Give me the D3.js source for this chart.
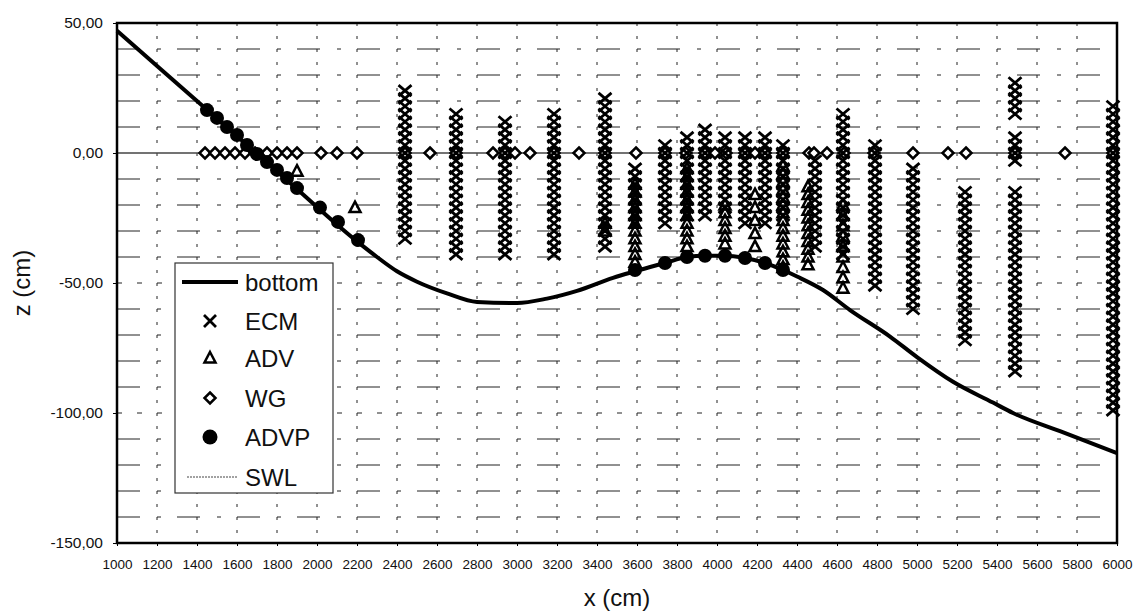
<!DOCTYPE html>
<html>
<head>
<meta charset="utf-8">
<script src="https://cdn.jsdelivr.net/npm/d3@7"></script>
<style>
  body { margin: 0; background: #fff; }
  text { font-family: "Liberation Sans", Arial, sans-serif; fill: #111; }
</style>
</head>
<body>
<div id="chart"></div>
<script>
// ---- data ----
var xTicks = [1000, 1200, 1400, 1600, 1800, 2000, 2200, 2400, 2600, 2800, 3000, 3200, 3400,
              3600, 3800, 4000, 4200, 4400, 4600, 4800, 5000, 5200, 5400, 5600, 5800, 6000];
var yTicks = [50, 0, -50, -100, -150];
var swlLevel = 0;

// bottom profile
var bottomX = [1000, 1400, 1800, 2200, 2300, 2400, 2500, 2650, 2800, 3000, 3150, 3300, 3480, 3590,
               3740, 3850, 3940, 4040, 4140, 4240, 4330, 4400, 4530, 4665, 4865, 5000, 5180, 5380,
               5480, 5715, 6000];
var bottomZ = [47, 20, -7, -34, -40, -45.5, -49.5, -54, -57.3, -57.7, -56, -53, -48, -45.5,
               -42.3, -40, -39.5, -39.5, -40.4, -42.3, -45, -47.5, -52.7, -60.4, -70.6, -78.5, -88, -96,
               -100, -107, -115.4];

// ECM columns
var ecmX = [2440, 2695, 2940, 3185, 3440, 3590, 3740, 3850, 3940, 4040, 4140, 4240, 4330, 4490,
            4630, 4790, 4980, 5240, 5490, 5980];
var ecmZ = [
  [24, 21, 18, 15, 12, 9, 6, 3, 0, -3, -6, -9, -12, -15, -18, -21, -24, -27, -30, -33],
  [15, 12, 9, 6, 3, 0, -3, -6, -9, -12, -15, -18, -21, -24, -27, -30, -33, -36, -39],
  [12, 9, 6, 3, 0, -3, -6, -9, -12, -15, -18, -21, -24, -27, -30, -33, -36, -39],
  [15, 12, 9, 6, 3, 0, -3, -6, -9, -12, -15, -18, -21, -24, -27, -30, -33, -36, -39],
  [21, 18, 15, 12, 9, 6, 3, 0, -3, -6, -9, -12, -15, -18, -21, -24, -27, -30, -33, -36],
  [-6, -9, -12, -15, -18, -21, -24, -27],
  [3, 0, -3, -6, -9, -12, -15, -18, -21, -24, -27],
  [6, 3, 0, -3, -6, -9, -12, -15, -18, -21, -24],
  [9, 6, 3, 0, -3, -6, -9, -12, -15, -18, -21, -24],
  [6, 3, 0, -3, -6, -9, -12, -15, -18, -21],
  [6, 3, 0, -3, -6, -9, -12, -15, -18, -21, -24, -27],
  [6, 3, 0, -3, -6, -9, -12, -15, -18, -21, -24, -27],
  [3, 0, -3, -6, -9, -12, -15, -18, -21, -24],
  [-3, -6, -9, -12, -15, -18, -21, -24, -27, -30, -33, -36],
  [15, 12, 9, 6, 3, 0, -3, -6, -9, -12, -15, -18, -21, -24, -27, -30, -33, -36, -39],
  [3, 0, -3, -6, -9, -12, -15, -18, -21, -24, -27, -30, -33, -36, -39, -42, -45, -48, -51],
  [-6, -9, -12, -15, -18, -21, -24, -27, -30, -33, -36, -39, -42, -45, -48, -51, -54, -57, -60],
  [-15, -18, -21, -24, -27, -30, -33, -36, -39, -42, -45, -48, -51, -54, -57, -60, -63, -66, -69, -72],
  [27, 24, 21, 18, 15, 6, 3, 0, -3, -15, -18, -21, -24, -27, -30, -33, -36, -39, -42, -45, -48,
   -51, -54, -57, -60, -63, -66, -69, -72, -75, -78, -81, -84],
  [18, 15, 12, 9, 6, 3, 0, -3, -6, -9, -12, -15, -18, -21, -24, -27, -30, -33, -36, -39, -42, -45,
   -48, -51, -54, -57, -60, -63, -66, -69, -72, -75, -78, -81, -84, -87, -90, -93, -96, -99]
];

// ADV columns
var advX = [1900, 2190, 3440, 3590, 3850, 4040, 4190, 4330, 4455, 4630];
var advZ = [
  [-7],
  [-21],
  [-27, -30],
  [-12, -15, -18, -21, -24, -27, -30, -33, -36, -39, -42],
  [-6, -9, -12, -15, -18, -21, -24, -27, -30, -33, -36],
  [-20, -23, -26, -29, -32, -35],
  [-16, -21, -26, -31, -36],
  [-5, -8, -11, -14, -17, -20, -23, -26, -29, -32, -35, -38, -41, -44],
  [-13, -16, -19, -22, -25, -28, -31, -34, -37, -40, -43],
  [-20, -24, -28, -32, -36, -40, -44, -48, -52]
];

// WG gauges, all at still water level
var wgX = [1440, 1490, 1540, 1590, 1640, 1690, 1750, 1800, 1850, 1900, 2020, 2100, 2200, 2440,
           2565, 2695, 2880, 2940, 2990, 3065, 3185, 3310, 3440, 3595, 3740, 3845, 3940, 3990,
           4045, 4140, 4190, 4240, 4330, 4460, 4485, 4550, 4635, 4785, 4980, 5155, 5245, 5490,
           5740, 5980];

// ADVP points
var advpX = [1450, 1500, 1550, 1600, 1650, 1700, 1750, 1800, 1850, 1900, 2015, 2105, 2205,
             3590, 3740, 3850, 3940, 4040, 4140, 4240, 4330];
var advpZ = [16.5, 13.5, 10, 6.9, 3.1, -0.4, -3.5, -6.5, -9.6, -13.5, -21, -26.5, -33.5,
             -45, -42.3, -40, -39.5, -39.5, -40.4, -42.3, -45];

var legendLabels = ["bottom", "ECM", "ADV", "WG", "ADVP", "SWL"];

// ---- drawing ----
ProfileChart();

function ProfileChart() {
    var w = 1135, h = 612;
    var left = 117, right = 1117, top = 23, bottom = 543;

    var x = d3.scaleLinear().domain([1000, 6000]).range([left, right]);
    var y = d3.scaleLinear().domain([-150, 50]).range([bottom, top]);

    var svg = d3.select("#chart").append("svg")
                .attr("width", w)
                .attr("height", h);

    var fmt = function(d) { return d.toFixed(2).replace(".", ","); };

    // grid: horizontal every 10 cm, vertical every 200 cm
    var hMinor = d3.range(-140, 50, 10).filter(function(d) { return d % 50 !== 0; });
    var hMajor = [-50, -100];

    svg.append("g").selectAll("line")
       .data(hMinor).enter().append("line")
       .attr("x1", left).attr("x2", right)
       .attr("y1", function(d) { return y(d); })
       .attr("y2", function(d) { return y(d); })
       .attr("stroke", "#222").attr("stroke-width", 1)
       .attr("stroke-dasharray", "23,17,4,16");

    svg.append("g").selectAll("line")
       .data(hMajor).enter().append("line")
       .attr("x1", left).attr("x2", right)
       .attr("y1", function(d) { return y(d); })
       .attr("y2", function(d) { return y(d); })
       .attr("stroke", "#222").attr("stroke-width", 1)
       .attr("stroke-dasharray", "5,15");

    svg.append("g").selectAll("line")
       .data(xTicks.slice(1, -1)).enter().append("line")
       .attr("x1", function(d) { return x(d); })
       .attr("x2", function(d) { return x(d); })
       .attr("y1", top).attr("y2", bottom)
       .attr("stroke", "#222").attr("stroke-width", 1)
       .attr("stroke-dasharray", "3,10");

    // still water level
    svg.append("line")
       .attr("x1", left).attr("x2", right)
       .attr("y1", y(swlLevel)).attr("y2", y(swlLevel))
       .attr("stroke", "#444").attr("stroke-width", 1.3);

    // axes
    var xAxis = d3.axisBottom(x).tickValues(xTicks).tickSize(3).tickPadding(13)
                  .tickFormat(function(d) { return d; });
    var gx = svg.append("g").attr("transform", "translate(0," + bottom + ")").call(xAxis);
    gx.select(".domain").remove();
    gx.selectAll("text").style("font-size", "13.5px").attr("fill", "#111");

    var yAxis = d3.axisLeft(y).tickValues(yTicks).tickSize(4).tickPadding(10).tickFormat(fmt);
    var gy = svg.append("g").attr("transform", "translate(" + left + ",0)").call(yAxis);
    gy.select(".domain").remove();
    gy.selectAll("text").style("font-size", "15.5px").attr("fill", "#111");

    // marker shapes
    var crossPath = "M-6.5,-5.5L6.5,5.5M-6.5,5.5L6.5,-5.5";
    var diamondPath = "M0,-5.5L5.5,0L0,5.5L-5.5,0Z";
    var trianglePath = "M0,-6L5.5,4.5L-5.5,4.5Z";

    // WG
    svg.append("g").selectAll("path")
       .data(wgX).enter().append("path")
       .attr("d", diamondPath)
       .attr("transform", function(d) { return "translate(" + x(d) + "," + y(swlLevel) + ")"; })
       .attr("fill", "#fff").attr("stroke", "#000").attr("stroke-width", 2.5);

    // ECM
    var ecmPts = [];
    ecmX.forEach(function(xv, i) {
        ecmZ[i].forEach(function(zv) { ecmPts.push([xv, zv]); });
    });
    svg.append("g").selectAll("path")
       .data(ecmPts).enter().append("path")
       .attr("d", crossPath)
       .attr("transform", function(d) { return "translate(" + x(d[0]) + "," + y(d[1]) + ")"; })
       .attr("fill", "none").attr("stroke", "#000").attr("stroke-width", 2.8);

    // ADV
    var advPts = [];
    advX.forEach(function(xv, i) {
        advZ[i].forEach(function(zv) { advPts.push([xv, zv]); });
    });
    svg.append("g").selectAll("path")
       .data(advPts).enter().append("path")
       .attr("d", trianglePath)
       .attr("transform", function(d) { return "translate(" + x(d[0]) + "," + y(d[1]) + ")"; })
       .attr("fill", "none").attr("stroke", "#000").attr("stroke-width", 2.5);

    // bottom profile
    var line = d3.line()
                 .x(function(d, i) { return x(bottomX[i]); })
                 .y(function(d) { return y(d); })
                 .curve(d3.curveMonotoneX);
    svg.append("path")
       .datum(bottomZ)
       .attr("d", line)
       .attr("fill", "none").attr("stroke", "#000").attr("stroke-width", 4);

    // ADVP
    svg.append("g").selectAll("circle")
       .data(advpX).enter().append("circle")
       .attr("cx", function(d) { return x(d); })
       .attr("cy", function(d, i) { return y(advpZ[i]); })
       .attr("r", 7)
       .attr("fill", "#000");

    // frame
    svg.append("rect")
       .attr("x", left).attr("y", top)
       .attr("width", right - left).attr("height", bottom - top)
       .attr("fill", "none").attr("stroke", "#000").attr("stroke-width", 2.5);

    // axis titles
    svg.append("text")
       .attr("x", (left + right) / 2).attr("y", 606)
       .attr("text-anchor", "middle")
       .style("font-size", "24px")
       .text("x (cm)");
    svg.append("text")
       .attr("transform", "translate(30," + (top + bottom) / 2 + ") rotate(-90)")
       .attr("text-anchor", "middle")
       .style("font-size", "24px")
       .text("z (cm)");

    // legend
    var lg = svg.append("g");
    lg.append("rect")
      .attr("x", 175).attr("y", 263).attr("width", 158).attr("height", 230)
      .attr("fill", "#fff").attr("stroke", "#333").attr("stroke-width", 1.2);

    var rowY = [282, 321, 358, 398, 437, 477];
    var sx = 210;
    legendLabels.forEach(function(label, i) {
        lg.append("text")
          .attr("x", 245).attr("y", rowY[i] + 8.5)
          .style("font-size", "24px")
          .text(label);
    });
    lg.append("line").attr("x1", 182).attr("x2", 238).attr("y1", rowY[0]).attr("y2", rowY[0])
      .attr("stroke", "#000").attr("stroke-width", 4);
    lg.append("path").attr("d", "M-6,-6L6,6M-6,6L6,-6")
      .attr("transform", "translate(" + sx + "," + rowY[1] + ")")
      .attr("fill", "none").attr("stroke", "#000").attr("stroke-width", 2.8);
    lg.append("path").attr("d", trianglePath)
      .attr("transform", "translate(" + sx + "," + rowY[2] + ")")
      .attr("fill", "none").attr("stroke", "#000").attr("stroke-width", 2.5);
    lg.append("path").attr("d", diamondPath)
      .attr("transform", "translate(" + sx + "," + rowY[3] + ")")
      .attr("fill", "#fff").attr("stroke", "#000").attr("stroke-width", 2.5);
    lg.append("circle").attr("cx", sx).attr("cy", rowY[4]).attr("r", 7.5).attr("fill", "#000");
    lg.append("line").attr("x1", 187).attr("x2", 237).attr("y1", rowY[5]).attr("y2", rowY[5])
      .attr("stroke", "#444").attr("stroke-width", 1).attr("stroke-dasharray", "2,1");
}
</script>
</body>
</html>
